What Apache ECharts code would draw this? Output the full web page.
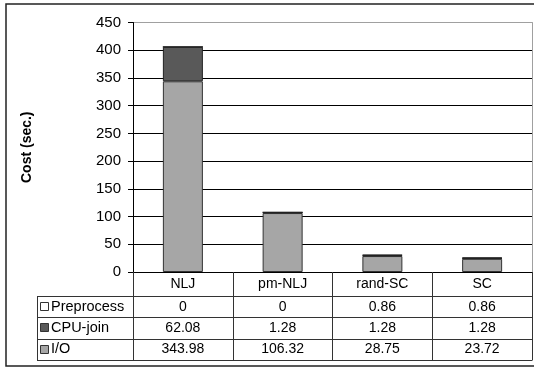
<!DOCTYPE html>
<html><head><meta charset="utf-8">
<script src="https://cdn.jsdelivr.net/npm/echarts@6/dist/echarts.min.js"></script>
<style>html,body{margin:0;padding:0;background:#fff}#c{width:534px;height:368px}</style>
</head><body><div id="c"></div>
<script>
var categories = ['NLJ', 'pm-NLJ', 'rand-SC', 'SC'];
var ioValues = [343.98, 106.32, 28.75, 23.72];
var cpuValues = [62.08, 1.28, 1.28, 1.28];
var preValues = [0, 0, 0.86, 0.86];
var seriesNames = ['Preprocess', 'CPU-join', 'I/O'];
var yTicks = [0, 50, 100, 150, 200, 250, 300, 350, 400, 450];

var FONT = 'Liberation Sans, Arial, sans-serif';
var colors = {'Preprocess': '#ffffff', 'CPU-join': '#595959', 'I/O': '#a6a6a6'};
var tableRows = {'Preprocess': preValues, 'CPU-join': cpuValues, 'I/O': ioValues};

var chart = echarts.init(document.getElementById('c'), null, {renderer: 'canvas'});
var gridColors = yTicks.map(function (v, i) { return i === yTicks.length - 1 ? '#a0a0a0' : '#000000'; });

var option = {
  animation: false,
  backgroundColor: '#fff',
  grid: {left: 133, right: 2, top: 22.5, bottom: 96, containLabel: false},
  xAxis: {
    type: 'category', data: categories,
    axisLine: {show: true, lineStyle: {color: '#000', width: 1}},
    axisTick: {show: true, inside: false, length: 88, lineStyle: {color: '#333', width: 1}},
    axisLabel: {color: '#000', fontFamily: FONT, fontSize: 14, margin: 5, lineHeight: 14}
  },
  yAxis: [{
    type: 'value', min: yTicks[0], max: yTicks[yTicks.length - 1], interval: 50,
    name: 'Cost (sec.)', nameLocation: 'middle', nameGap: 99, nameRotate: 90,
    nameTextStyle: {color: '#000', fontFamily: FONT, fontSize: 14, fontWeight: 'bold'},
    axisLine: {show: true, lineStyle: {color: '#000', width: 1}},
    axisTick: {show: true, length: 5, lineStyle: {color: '#000'}},
    axisLabel: {color: '#000', fontFamily: FONT, fontSize: 15, margin: 12},
    splitLine: {show: true, lineStyle: {color: gridColors, width: 1}}
  }, {
    type: 'value', position: 'right', min: 0, max: 450, interval: 50,
    axisLine: {show: true, lineStyle: {color: '#a0a0a0', width: 1}},
    axisTick: {show: false}, axisLabel: {show: false}, splitLine: {show: false}
  }],
  series: [
    {name: 'I/O', type: 'bar', stack: 's', data: ioValues, barWidth: 40,
     itemStyle: {color: colors['I/O'], borderColor: '#333', borderWidth: 1}},
    {name: 'CPU-join', type: 'bar', stack: 's', data: cpuValues, barWidth: 40,
     itemStyle: {color: colors['CPU-join'], borderColor: '#222', borderWidth: 1}},
    {name: 'Preprocess', type: 'bar', stack: 's', data: preValues, barWidth: 40,
     itemStyle: {color: colors['Preprocess'], borderColor: '#222', borderWidth: 1}}
  ]
};
chart.setOption(option);

// Build the data table below the axis
var axisY = chart.convertToPixel({yAxisIndex: 0}, 0); // pixel y of value 0
var leftX = 37, rightX = 532.5;
var headerH = 24, rowH = 21.3;
var g = [];
g.push({type: 'rect', shape: {x: 6, y: 4, width: 540, height: 362}, style: {fill: null, stroke: '#222', lineWidth: 1.5}, z: 100});
var rowTop = axisY + headerH;
for (var r = 0; r <= seriesNames.length; r++) {
  var yy = Math.round(rowTop + r * rowH) + 0.5;
  g.push({type: 'line', shape: {x1: leftX, y1: yy, x2: rightX, y2: yy}, style: {stroke: '#333', lineWidth: 1}, z: 50});
}
g.push({type: 'line', shape: {x1: leftX + 0.5, y1: Math.round(rowTop) + 0.5, x2: leftX + 0.5, y2: Math.round(rowTop + seriesNames.length * rowH) + 0.5}, style: {stroke: '#333', lineWidth: 1}, z: 50});
seriesNames.forEach(function (name, r) {
  var cy = rowTop + r * rowH + rowH / 2;
  g.push({type: 'rect', shape: {x: 40.5, y: Math.round(cy - 4.5) + 0.5, width: 8, height: 8},
    style: {fill: colors[name], stroke: '#333', lineWidth: 1}, z: 60});
  g.push({type: 'text', x: 51, y: cy, style: {text: name, fill: '#000', font: '14.5px ' + FONT, textVerticalAlign: 'middle', textAlign: 'left'}, z: 60});
  tableRows[name].forEach(function (v, i) {
    var cx = chart.convertToPixel({xAxisIndex: 0}, categories[i]);
    g.push({type: 'text', x: cx, y: cy, style: {text: String(v), fill: '#000', font: '14px ' + FONT, textVerticalAlign: 'middle', textAlign: 'center'}, z: 60});
  });
});
chart.setOption({graphic: g});
</script></body></html>
